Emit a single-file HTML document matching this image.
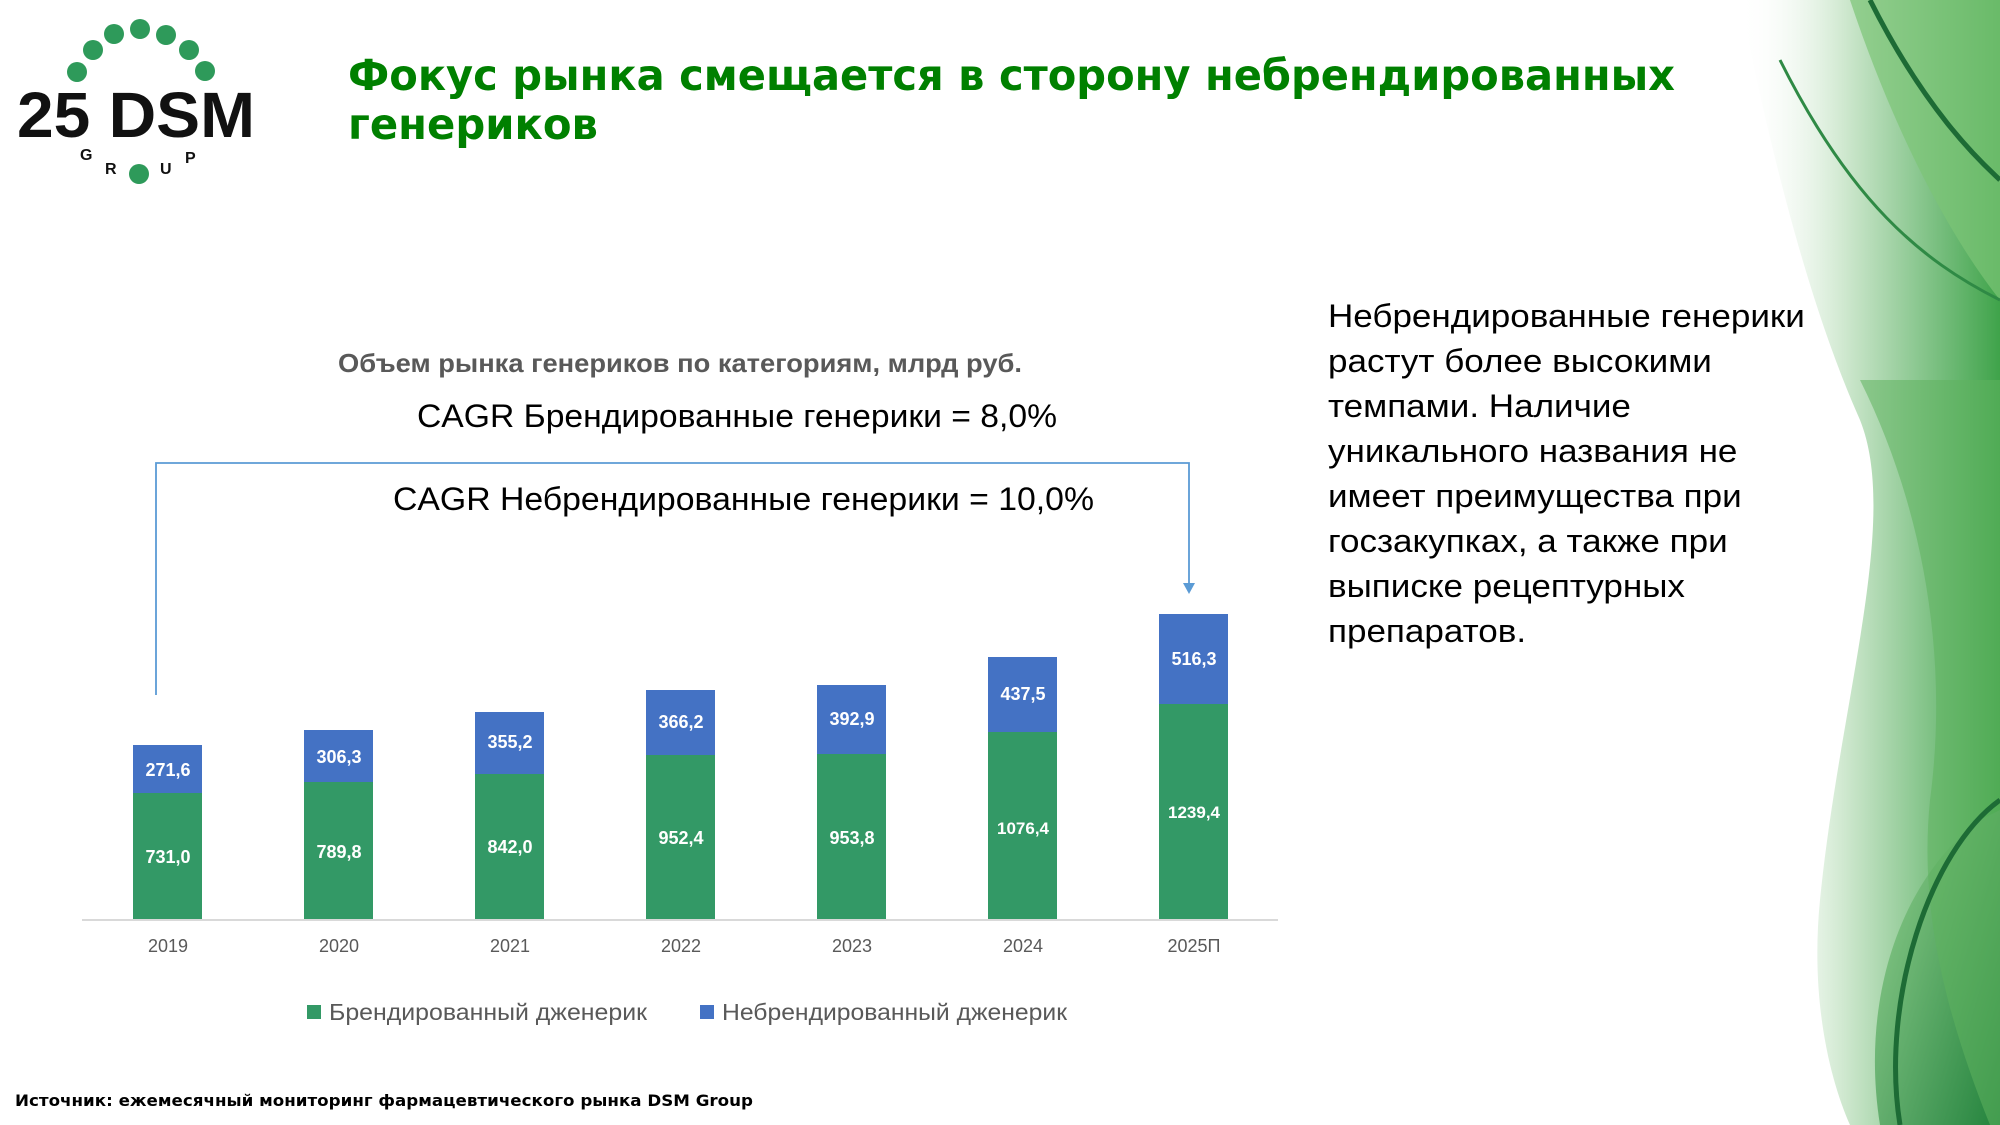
<!DOCTYPE html>
<html><head><meta charset="utf-8"><style>
html,body{margin:0;padding:0;background:#fff;}
svg{display:block;}
</style></head><body>
<svg width="2000" height="1125" viewBox="0 0 2000 1125" xmlns="http://www.w3.org/2000/svg">
<defs>
<linearGradient id="g1" x1="0" y1="0" x2="1" y2="0">
<stop offset="0" stop-color="#ffffff" stop-opacity="0"/>
<stop offset="0.4" stop-color="#cfe8cf"/>
<stop offset="1" stop-color="#3fa34a"/>
</linearGradient>
<linearGradient id="g2" x1="0" y1="0" x2="1" y2="1">
<stop offset="0" stop-color="#8fd08a"/>
<stop offset="1" stop-color="#1e7d3a"/>
</linearGradient>
</defs>
<rect width="2000" height="1125" fill="#fff"/>
<path d="M1740 0 C1780 200 1820 330 1860 420 C1900 520 1840 700 1820 900 C1810 1000 1830 1080 1850 1125 L2000 1125 L2000 0 Z" fill="url(#g1)"/>
<path d="M1850 0 C1900 150 1960 250 2000 300 L2000 0 Z" fill="#7cc576" opacity="0.7"/>
<path d="M1880 1125 C1860 1000 1900 880 1980 820 L2000 810 L2000 1125 Z" fill="url(#g2)" opacity="0.85"/>
<path d="M1860 380 C1920 500 1950 650 1930 800 C1920 900 1940 1000 1990 1125 L2000 1125 L2000 380 Z" fill="#5fb35f" opacity="0.55"/>
<path d="M1870 0 C1930 120 1990 170 2000 180" stroke="#1d6b35" stroke-width="5" fill="none"/>
<path d="M1900 1125 C1880 1000 1930 850 2000 800" stroke="#1d6b35" stroke-width="5" fill="none"/>
<path d="M1780 60 C1850 200 1920 260 2000 300" stroke="#2f8a45" stroke-width="3" fill="none"/>
<g fill="#2e9a5a">
<circle cx="77" cy="72" r="10"/><circle cx="93" cy="50" r="10"/><circle cx="114" cy="34" r="10"/>
<circle cx="140" cy="29" r="10"/><circle cx="166" cy="35" r="10"/><circle cx="189" cy="50" r="10"/>
<circle cx="205" cy="71" r="10"/><circle cx="139" cy="174" r="10"/>
</g>
<text x="17" y="137" font-family="Liberation Sans, sans-serif" font-weight="bold" font-size="64" textLength="238" lengthAdjust="spacingAndGlyphs" fill="#111">25 DSM</text>
<text x="80" y="160" font-family="Liberation Sans, sans-serif" font-weight="bold" font-size="16" fill="#111">G</text>
<text x="105" y="174" font-family="Liberation Sans, sans-serif" font-weight="bold" font-size="16" fill="#111">R</text>
<text x="160" y="174" font-family="Liberation Sans, sans-serif" font-weight="bold" font-size="16" fill="#111">U</text>
<text x="185" y="163" font-family="Liberation Sans, sans-serif" font-weight="bold" font-size="16" fill="#111">P</text>
<g font-family="DejaVu Sans, sans-serif" font-weight="bold" font-size="43" fill="#008000">
<text x="348" y="90" textLength="1327" lengthAdjust="spacingAndGlyphs">Фокус рынка смещается в сторону небрендированных</text>
<text x="348" y="139" textLength="250" lengthAdjust="spacingAndGlyphs">генериков</text>
</g>
<text x="680" y="372" text-anchor="middle" font-family="Liberation Sans, 'DejaVu Sans', sans-serif" font-weight="bold" font-size="26" fill="#595959" textLength="684" lengthAdjust="spacingAndGlyphs">Объем рынка генериков по категориям, млрд руб.</text>
<text x="417" y="427" font-family="Liberation Sans, sans-serif" font-size="32" fill="#000" textLength="640" lengthAdjust="spacingAndGlyphs">CAGR Брендированные генерики = 8,0%</text>
<text x="393" y="510" font-family="Liberation Sans, sans-serif" font-size="32" fill="#000" textLength="701" lengthAdjust="spacingAndGlyphs">CAGR Небрендированные генерики = 10,0%</text>
<path d="M156 695 L156 463 L1189 463 L1189 585" stroke="#5b9bd5" stroke-width="1.8" fill="none"/>
<path d="M1183 583 L1195 583 L1189 594 Z" fill="#5b9bd5"/>
<g>
<rect x="133" y="793" width="69" height="127" fill="#339966"/><rect x="133" y="745" width="69" height="48" fill="#4472c4"/>
<rect x="304" y="782" width="69" height="138" fill="#339966"/><rect x="304" y="730" width="69" height="52" fill="#4472c4"/>
<rect x="475" y="774" width="69" height="146" fill="#339966"/><rect x="475" y="712" width="69" height="62" fill="#4472c4"/>
<rect x="646" y="755" width="69" height="165" fill="#339966"/><rect x="646" y="690" width="69" height="65" fill="#4472c4"/>
<rect x="817" y="754" width="69" height="166" fill="#339966"/><rect x="817" y="685" width="69" height="69" fill="#4472c4"/>
<rect x="988" y="732" width="69" height="188" fill="#339966"/><rect x="988" y="657" width="69" height="75" fill="#4472c4"/>
<rect x="1159" y="704" width="69" height="216" fill="#339966"/><rect x="1159" y="614" width="69" height="90" fill="#4472c4"/>
</g>
<line x1="82" y1="920" x2="1278" y2="920" stroke="#d9d9d9" stroke-width="2"/>
<g font-family="Liberation Sans, sans-serif" font-weight="bold" font-size="18" fill="#fff" text-anchor="middle">
<text x="168" y="776">271,6</text><text x="168" y="863">731,0</text>
<text x="339" y="763">306,3</text><text x="339" y="858">789,8</text>
<text x="510" y="748">355,2</text><text x="510" y="853">842,0</text>
<text x="681" y="728">366,2</text><text x="681" y="844">952,4</text>
<text x="852" y="725">392,9</text><text x="852" y="844">953,8</text>
<text x="1023" y="834" font-size="17">1076,4</text><text x="1023" y="700">437,5</text>
<text x="1194" y="665">516,3</text><text x="1194" y="818" font-size="17">1239,4</text>
</g>
<g font-family="Liberation Sans, sans-serif" font-size="18" fill="#595959" text-anchor="middle">
<text x="168" y="952">2019</text><text x="339" y="952">2020</text><text x="510" y="952">2021</text>
<text x="681" y="952">2022</text><text x="852" y="952">2023</text><text x="1023" y="952">2024</text><text x="1194" y="952">2025П</text>
</g>
<rect x="307" y="1005" width="14" height="14" fill="#339966"/>
<text x="329" y="1020" font-family="Liberation Sans, sans-serif" font-size="23" fill="#595959" textLength="318" lengthAdjust="spacingAndGlyphs">Брендированный дженерик</text>
<rect x="700" y="1005" width="14" height="14" fill="#4472c4"/>
<text x="722" y="1020" font-family="Liberation Sans, sans-serif" font-size="23" fill="#595959" textLength="345" lengthAdjust="spacingAndGlyphs">Небрендированный дженерик</text>
<g font-family="Liberation Sans, sans-serif" font-size="32" fill="#000" transform="translate(1328 0) scale(1.095 1) translate(-1328 0)">
<text x="1328" y="327">Небрендированные генерики</text>
<text x="1328" y="372">растут более высокими</text>
<text x="1328" y="417">темпами. Наличие</text>
<text x="1328" y="462">уникального названия не</text>
<text x="1328" y="507">имеет преимущества при</text>
<text x="1328" y="552">госзакупках, а также при</text>
<text x="1328" y="597">выписке рецептурных</text>
<text x="1328" y="642">препаратов.</text>
</g>
<text x="15" y="1106" font-family="DejaVu Sans, sans-serif" font-weight="bold" font-size="16" fill="#000" textLength="738" lengthAdjust="spacingAndGlyphs">Источник: ежемесячный мониторинг фармацевтического рынка DSM Group</text>
</svg>
</body></html>
